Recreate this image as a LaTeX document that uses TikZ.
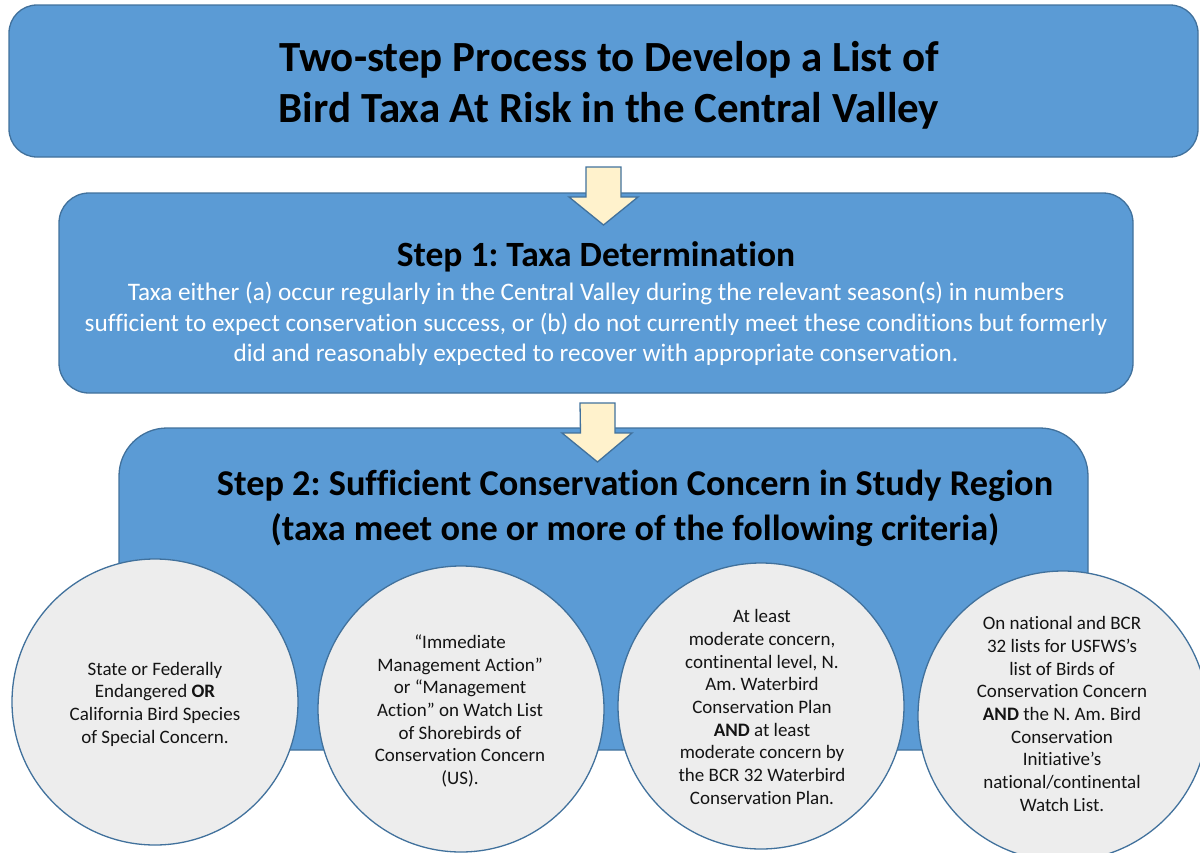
\documentclass[tikz,border=0pt]{standalone}
\usepackage{fontspec}
\setmainfont[Ligatures={NoCommon}]{Carlito}
\frenchspacing
\begin{document}
\begin{tikzpicture}[x=1pt,y=-1pt,
  blockbox/.style={draw=edgeblue,fill=boxblue,line width=1.3pt,inner sep=0pt},
  critcircle/.style={circle,draw=edgeblue,fill=circlegray,line width=1.3pt,inner sep=0pt},
  flowarrow/.style={draw=edgeblue,fill=arrowcream,line width=1.3pt,line join=miter},
  crittext/.style={align=center,inner sep=0pt,text=textdark,font=\fontsize{19}{22.7}\selectfont}]
\definecolor{boxblue}{HTML}{5B9BD5}
\definecolor{edgeblue}{HTML}{41719C}
\definecolor{circlegray}{HTML}{EDEDED}
\definecolor{arrowcream}{HTML}{FFF2CC}
\definecolor{textdark}{HTML}{141414}
\useasboundingbox (0,0) rectangle (1200,852);

% title box
\node[blockbox,rounded corners=28pt,minimum width=1189pt,minimum height=152pt] (title) at (603.5,81) {};
\node[align=center,inner sep=0pt,font=\bfseries\fontsize{43}{51}\selectfont] (titletext) at (609,85)
  {Two-step Process to Develop a List of\\Bird Taxa At Risk in the Central Valley};

% step 1 box
\node[blockbox,rounded corners=30pt,minimum width=1074pt,minimum height=200pt] (step1) at (596,293) {};
\node[inner sep=0pt,font=\bfseries\fontsize{35.5}{40}\selectfont] (step1head) at (596,257) {Step 1: Taxa Determination};
\node[align=center,inner sep=0pt,text=white,font=\fontsize{25.2}{30.5}\selectfont] (step1body) at (596,324)
  {Taxa either (a) occur regularly in the Central Valley during the relevant season(s) in numbers\\
   sufficient to expect conservation success, or (b) do not currently meet these conditions but formerly\\
   did and reasonably expected to recover with appropriate conservation.};

% step 2 box
\node[blockbox,rounded corners=48pt,minimum width=969pt,minimum height=322pt] (step2) at (603.5,589) {};
\node[align=center,inner sep=0pt,font=\bfseries\fontsize{36.3}{45}\selectfont] (step2head) at (635,508)
  {Step 2: Sufficient Conservation Concern in Study Region\\(taxa meet one or more of the following criteria)};

% block arrows between the boxes
\coordinate (a1) at (603.5,167);
\draw[flowarrow] (a1) ++(-17.5,0) -- ++(35,0) -- ++(0,30) -- ++(17,0) -- (603.5,225) -- ++(-34.5,-28) -- ++(17,0) -- cycle;
\coordinate (a2) at (597.5,403);
\draw[flowarrow] (a2) ++(-17.5,0) -- ++(35,0) -- ++(0,30) -- ++(17,0) -- (597.5,462) -- ++(-35.5,-29) -- ++(18.5,0) -- cycle;

% criteria circles
\node[critcircle,minimum size=286pt] (c1) at (155,702) {};
\node[crittext] (c1text) at (155,704)
  {State or Federally\\Endangered \textbf{OR}\\California Bird Species\\of Special Concern.};

\node[critcircle,minimum size=286pt] (c2) at (461,709) {};
\node[crittext] (c2text) at (460,711)
  {“Immediate\\Management Action”\\or “Management\\Action” on Watch List\\of Shorebirds of\\Conservation Concern\\(US).};

\node[critcircle,minimum size=286pt] (c3) at (761,706) {};
\node[crittext] (c3text) at (762,707)
  {At least\\moderate concern,\\continental level, N.\\Am. Waterbird\\Conservation Plan\\\textbf{AND} at least\\moderate concern by\\the BCR 32 Waterbird\\Conservation Plan.};

\node[critcircle,minimum size=290pt] (c4) at (1063,716) {};
\node[crittext] (c4text) at (1062,714)
  {On national and BCR\\32 lists for USFWS’s\\list of Birds of\\Conservation Concern\\\textbf{AND} the N. Am. Bird\\Conservation\\Initiative’s\\national/continental\\Watch List.};
\end{tikzpicture}
\end{document}
